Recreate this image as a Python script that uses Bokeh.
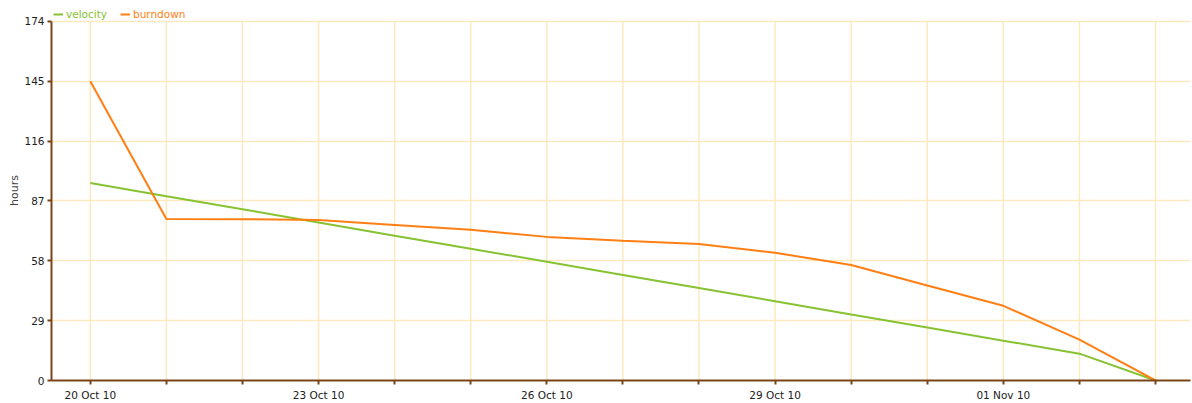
from bokeh.plotting import figure
from bokeh.models import FixedTicker, Legend, LegendItem, ColumnDataSource
from bokeh.embed import file_html
from bokeh.resources import INLINE

dates = ["20 Oct 10", "21 Oct 10", "22 Oct 10", "23 Oct 10", "24 Oct 10", "25 Oct 10",
         "26 Oct 10", "27 Oct 10", "28 Oct 10", "29 Oct 10", "30 Oct 10", "31 Oct 10",
         "01 Nov 10", "02 Nov 10", "03 Nov 10"]
velocity = [95.7, 89.3, 83.0, 76.6, 70.2, 63.9, 57.5, 51.1, 44.8, 38.4, 32.0, 25.7, 19.3, 13.0, 0]
burndown = [145, 78.3, 78.2, 77.8, 75.4, 73.0, 69.6, 67.7, 66.2, 61.9, 56.0, 46.0, 36.2, 19.8, 0]
labelled = ["20 Oct 10", "23 Oct 10", "26 Oct 10", "29 Oct 10", "01 Nov 10"]
y_ticks = [0, 29, 58, 87, 116, 145, 174]

idx = list(range(len(dates)))
src = ColumnDataSource(dict(x=idx, velocity=velocity, burndown=burndown))
ymax = y_ticks[-1]

GREEN = "#86C232"
ORANGE = "#FF7F14"
BROWN = "#7A4519"
GRID = "#FCE9C0"

# frame spans the full height above the x axis; the room above the top tick holds the legend
p = figure(width=1192, height=403, output_backend="svg", toolbar_location=None,
           x_range=(-0.51, 14.46), y_range=(0, ymax * 381 / 360),
           min_border_left=51, min_border_right=2, min_border_top=0, min_border_bottom=22)
p.outline_line_color = None

p.xaxis.ticker = FixedTicker(ticks=idx)
p.xaxis.major_label_overrides = {i: (d if d in labelled else "") for i, d in enumerate(dates)}
p.yaxis.ticker = FixedTicker(ticks=y_ticks)
p.yaxis.bounds = (0, ymax)

for ax in (p.xaxis, p.yaxis):
    ax.axis_line_color = BROWN
    ax.axis_line_width = 2
    ax.major_tick_line_color = BROWN
    ax.major_tick_line_width = 2
    ax.major_tick_out = 4
    ax.major_tick_in = 0
    ax.minor_tick_line_color = None
    ax.major_label_text_font = "DejaVu Sans"
    ax.major_label_text_font_size = "10.5px"
    ax.major_label_text_color = "#222222"
p.xaxis.major_label_standoff = 4
p.yaxis.major_label_standoff = 3
p.yaxis.axis_label = "hours"
p.yaxis.axis_label_text_font = "DejaVu Sans"
p.yaxis.axis_label_text_font_size = "11px"
p.yaxis.axis_label_text_font_style = "normal"
p.yaxis.axis_label_text_color = "#444444"
p.yaxis.axis_label_standoff = 0

p.xgrid.grid_line_color = None
p.ygrid.grid_line_color = GRID
p.ygrid.grid_line_width = 1.5
p.segment(x0=idx, y0=[0] * len(idx), x1=idx, y1=[ymax] * len(idx),
          line_color=GRID, line_width=1.5)

rv = p.line("x", "velocity", source=src, line_color=GREEN, line_width=2)
rb = p.line("x", "burndown", source=src, line_color=ORANGE, line_width=2)

for r, name, col, xloc in ((rv, "velocity", GREEN, 2), (rb, "burndown", ORANGE, 69)):
    lg = Legend(items=[LegendItem(label=name, renderers=[r])], location=(xloc, 360),
                orientation="horizontal", background_fill_alpha=0, border_line_color=None,
                label_text_color=col, label_text_font="DejaVu Sans", label_text_font_size="10.5px",
                glyph_width=10, glyph_height=8, label_standoff=3, padding=0, margin=0,
                label_height=10)
    p.add_layout(lg)

open("out.html", "w").write(file_html(p, INLINE))
